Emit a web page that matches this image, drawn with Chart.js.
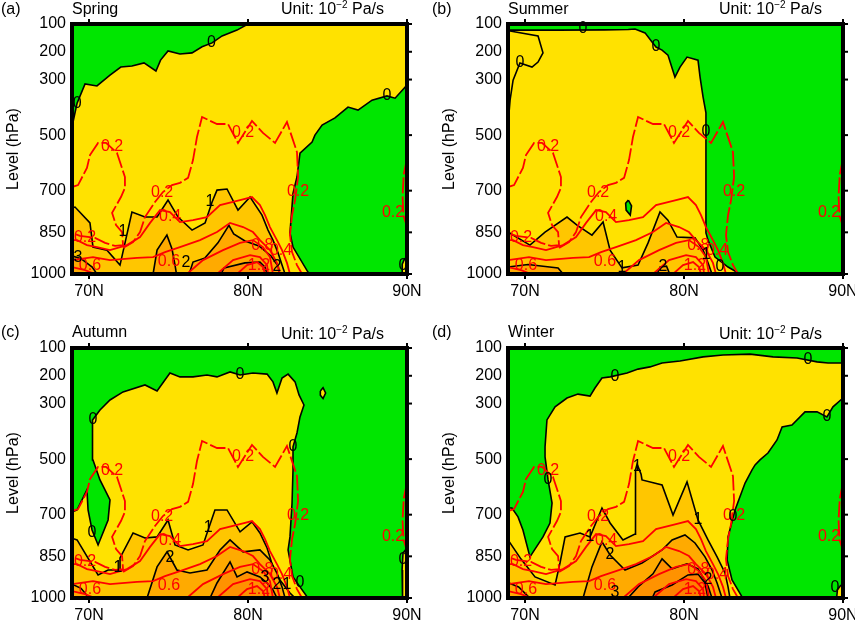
<!DOCTYPE html>
<html>
<head>
<meta charset="utf-8">
<script src="https://cdn.jsdelivr.net/npm/chart.js@4.4.0/dist/chart.umd.min.js"></script>
<style>
  html, body { margin: 0; padding: 0; background: #fff; }
  body { position: relative; width: 855px; height: 621px; overflow: hidden; font-family: 'Liberation Sans', Arial, sans-serif; }
  canvas { position: absolute; }
  .t { position: absolute; font-size: 16px; line-height: 16px; color: #000; white-space: nowrap; z-index: 2; }
  .t sup { font-size: 10px; line-height: 0; vertical-align: 6px; }
</style>
</head>
<body>
<canvas id="cA" width="430" height="322" style="left:0;top:0;width:430px;height:322px"></canvas>
<canvas id="cB" width="430" height="322" style="left:436px;top:0;width:430px;height:322px"></canvas>
<canvas id="cC" width="430" height="322" style="left:0;top:324px;width:430px;height:322px"></canvas>
<canvas id="cD" width="430" height="322" style="left:436px;top:324px;width:430px;height:322px"></canvas>

<div class="t" style="left:1px;top:1px">(a)</div>
<div class="t" style="left:72px;top:1px">Spring</div>
<div class="t" style="left:281px;top:1px">Unit: 10<sup>−2</sup> Pa/s</div>
<div class="t" style="left:432px;top:1px">(b)</div>
<div class="t" style="left:508px;top:1px">Summer</div>
<div class="t" style="left:719px;top:1px">Unit: 10<sup>−2</sup> Pa/s</div>
<div class="t" style="left:1px;top:324px">(c)</div>
<div class="t" style="left:72px;top:324px">Autumn</div>
<div class="t" style="left:281px;top:326px">Unit: 10<sup>−2</sup> Pa/s</div>
<div class="t" style="left:432px;top:324px">(d)</div>
<div class="t" style="left:508px;top:324px">Winter</div>
<div class="t" style="left:719px;top:326px">Unit: 10<sup>−2</sup> Pa/s</div>

<script>
// axes
const latTicks = [70, 80, 90];
const levelTicks = [100, 200, 300, 500, 700, 850, 1000];
const latMin = 68.93, latMax = 90;
const levelMin = 100, levelMax = 1000;

// shared red contours [lat, hPa]
const red02Tongue = [[68.93,687],[69.31,680],[69.87,618],[70.06,572],[70.57,528],[71.07,528],[71.76,564],[72.26,651],[72.26,690],[72.01,723],[71.45,780],[71.7,824],[72.08,849],[72.14,896],[71.64,899],[71.01,888],[70.38,870],[69.43,863],[68.93,852]];
const red02Main = [[72.14,906],[72.77,885],[73.21,849],[73.52,795],[74.15,741],[74.65,705],[75.22,680],[75.72,672],[76.23,654],[76.54,590],[76.79,507],[77.11,435],[78.05,460],[78.74,460],[79.37,528],[80.25,449],[80.94,492],[81.7,528],[82.45,453],[83.08,561],[83.15,651],[82.96,734],[82.77,788],[82.64,860],[82.77,921],[83.08,968],[83.4,1000]];
const red02Right = [[90,585],[89.8,640],[89.72,720],[89.78,790],[90,830]];
const red04 = [[68.93,878],[69.25,878],[69.87,896],[70.5,903],[71.32,914],[72.39,896],[73.21,867],[73.84,816],[74.47,770],[75.09,777],[75.72,813],[76.54,806],[77.42,795],[78.24,752],[79.5,734],[80.25,723],[80.75,752],[81.07,788],[81.38,831],[81.82,878],[82.14,914],[82.45,960],[82.64,1000]];
const red06 = [[68.93,950],[70.25,939],[71.32,950],[73.02,942],[74.03,939],[74.78,921],[75.72,903],[76.98,878],[78.05,849],[78.87,816],[79.69,831],[80.31,849],[80.75,878],[81.38,914],[81.82,960],[82.01,1000]];
const red08Left = [[68.93,975],[69.75,986],[70.38,1000]];
const red08 = [[76.16,1000],[77.17,950],[78.43,914],[79.5,888],[80.31,878],[80.94,903],[81.38,939],[81.57,1000]];
const red10 = [[78.05,1000],[79.06,950],[80.13,932],[80.75,939],[81.2,968],[81.26,1000]];
const red12 = [[79.31,1000],[79.94,968],[80.57,957],[80.94,975],[81.07,1000]];
const redLabels = [['0.2',71.45,543],['0.2',79.69,492],['0.2',74.6,708],['0.2',83.15,705],['0.2',89.12,780],['0.2',69.75,870],['0.4',75.1,795],['0.6',75.03,957],['0.6',70.06,968],['0.8',80.9,899],['0.4',82.08,914],['1.2',80.69,971]];

// Spring
const springYellow = [[68.93,1000],[68.93,470],[69.25,385],[69.75,316],[70.5,323],[71.32,284],[72.0,255],[72.7,251],[73.46,240],[74.21,269],[74.5,230],[74.97,197],[75.72,208],[76.48,204],[77.11,182],[77.74,168],[78.37,143],[79.31,122],[80.0,100],[90,100],[90,320],[89.25,367],[88.74,359],[87.8,374],[86.92,410],[86.29,399],[85.47,438],[84.66,464],[84.21,500],[84.03,525],[83.27,565],[83.08,651],[82.83,710],[82.64,852],[82.83,903],[83.77,993],[83.9,1000],[68.93,1000]];
const springYellowEdge = [[89.7,1000],[89.7,965],[89.85,945],[90,940],[90,1000],[89.7,1000]];
const springOr1 = [[68.93,1000],[68.93,762],[69.12,759],[70.06,816],[70.25,903],[71.13,914],[71.95,968],[72.7,777],[73.52,795],[74.28,795],[74.97,734],[75.6,795],[76.48,842],[77.3,816],[77.74,741],[78.05,698],[78.68,694],[79.37,770],[80.13,723],[80.88,788],[81.26,842],[81.57,878],[81.89,924],[82.14,968],[82.33,1000],[68.93,1000]];
const springOr2a = [[74.03,1000],[74.28,914],[74.9,860],[75.22,910],[75.41,968],[75.5,1000],[74.03,1000]];
const springOr2b = [[76.3,1000],[76.54,957],[77.3,942],[78.11,888],[78.8,825],[79.1,856],[79.81,881],[80.69,899],[81.45,935],[81.89,971],[82.0,1000],[76.3,1000]];
const springOr2c = [[68.93,1000],[68.93,935],[69.5,945],[70.2,975],[70.5,1000],[68.93,1000]];
const springOr3 = [[78.3,1000],[78.5,978],[79.81,960],[80.75,957],[81.07,975],[81.2,1000],[78.3,1000]];
const springLabels = [['0',69.25,385],['0',77.7,168],['0',88.74,359],['0',89.75,968],['1',77.6,741],['1',72.14,849],['2',76.1,960],['2',81.82,975],['3',69.3,940]];

// Summer
const summerYellow = [[68.93,1000],[68.93,122],[72.0,122],[75.0,121],[76.5,120],[76.92,118],[77.55,132],[77.99,165],[78.24,183],[78.62,194],[78.99,212],[79.43,291],[79.75,255],[80.19,219],[80.88,230],[81.01,291],[81.2,363],[81.38,420],[81.38,554],[81.38,852],[81.51,878],[81.95,939],[82.77,975],[83.52,1000],[68.93,1000]];
const summerLoop = [[68.93,125],[69.06,125],[70.82,143],[71.13,204],[70.82,237],[70.44,255],[69.68,240],[69.25,302],[69.06,374],[68.95,450]];
const summerOr1 = [[68.93,1000],[68.93,849],[70.31,896],[71.26,849],[72.64,795],[73.27,824],[74.21,860],[74.91,813],[75.35,914],[76.1,978],[77.11,968],[77.74,888],[78.49,777],[78.99,806],[79.56,867],[80.69,870],[81.2,914],[81.51,960],[81.76,1000],[68.93,1000]];
const summerOr2a = [[68.93,1000],[68.93,975],[70.19,966],[72.08,978],[72.4,1000],[68.93,1000]];
const summerOr2b = [[78.3,1000],[78.5,975],[78.9,972],[79.1,1000],[78.3,1000]];
const summerGreenSpot = [[76.5,734],[76.7,755],[76.62,788],[76.36,770],[76.33,745],[76.5,734]];
const summerLabels = [['0',73.65,118],['0',69.68,240],['0',78.24,183],['0',81.38,489],['0',82.26,975],['1',76.1,978],['2',78.68,975],['1',81.4,930]];

// Autumn
const autumnYellow = [[68.93,1000],[68.93,690],[69.25,683],[69.87,611],[69.94,683],[70.19,755],[70.57,809],[71.2,719],[71.32,647],[70.69,575],[70.25,503],[70.19,420],[70.25,359],[70.69,323],[71.32,287],[72.14,258],[73.52,233],[74.28,255],[75.09,190],[75.72,204],[76.54,204],[77.42,197],[78.05,204],[78.87,186],[79.5,197],[80.31,190],[81.2,194],[81.57,222],[81.82,262],[82.14,208],[82.52,194],[82.96,222],[83.21,269],[83.52,305],[83.27,348],[83.08,406],[82.83,456],[82.83,539],[82.77,658],[82.64,780],[82.52,827],[82.83,924],[83.27,960],[83.77,1000],[68.93,1000]];
const autumnYellowEdge = [[90,820],[89.75,838],[89.69,899],[89.72,1000],[90,1000],[90,820]];
const autumnYellowLoop = [[84.55,255],[84.72,243],[84.88,262],[84.72,282],[84.55,270],[84.55,255]];
const autumnOr1 = [[68.93,1000],[68.93,785],[69.25,791],[70.57,917],[71.2,899],[71.95,899],[71.95,856],[72.77,766],[73.52,784],[74.28,780],[74.97,719],[75.41,809],[76.23,827],[77.17,809],[77.92,683],[78.68,683],[79.5,762],[80.25,726],[80.75,766],[81.2,820],[81.57,888],[82.01,935],[82.64,982],[82.96,1000],[68.93,1000]];
const autumnOr2a = [[73.65,1000],[74.28,888],[74.91,834],[75.53,899],[76.35,910],[77.42,899],[78.24,827],[78.87,791],[79.69,834],[80.75,827],[81.38,863],[81.82,910],[82.14,960],[82.33,1000],[73.65,1000]];
const autumnOr2b = [[68.93,1000],[68.93,950],[69.5,965],[70.0,1000],[68.93,1000]];
const autumnOr3 = [[77.61,1000],[78.05,946],[78.87,870],[79.31,924],[79.94,906],[80.75,924],[81.2,946],[81.57,971],[81.82,1000],[77.61,1000]];
const autumnLabels = [['0',70.25,359],['0',79.5,197],['0',82.83,456],['0',70.19,766],['0',83.27,946],['0',89.75,863],['1',71.82,892],['1',77.5,748],['2',75.09,856],['3',81.07,928],['2',81.82,953],['1',82.45,953]];

// Winter
const winterYellow = [[68.93,1000],[68.93,676],[69.18,676],[69.56,708],[69.87,755],[70.31,852],[71.13,780],[71.57,730],[71.7,658],[71.45,575],[71.26,492],[71.26,456],[71.38,359],[71.89,312],[72.64,280],[73.33,266],[74.09,273],[74.4,244],[74.84,208],[75.35,204],[76.42,190],[77.11,176],[77.86,168],[78.62,154],[79.75,147],[81.2,132],[82.45,125],[84.15,122],[85.6,132],[87.11,136],[88.37,150],[89.06,154],[89.75,154],[90,154],[90,280],[89.37,312],[88.99,348],[88.37,330],[87.61,330],[86.79,377],[86.17,384],[85.85,431],[85.28,478],[84.78,503],[84.47,521],[84.28,539],[83.84,586],[83.21,683],[82.77,780],[82.71,863],[83.02,935],[83.65,996],[83.7,1000],[68.93,1000]];
const winterYellowEdge = [[89.6,1000],[89.65,970],[89.85,955],[90,950],[90,1000],[89.6,1000]];
const winterOr1 = [[68.93,1000],[68.93,791],[69.75,860],[70.63,924],[71.89,953],[72.2,874],[72.52,780],[73.46,766],[74.09,780],[74.84,676],[75.35,730],[76.16,791],[76.92,770],[76.98,644],[76.92,539],[77.05,518],[77.3,554],[77.36,575],[78.62,593],[79.31,701],[80.19,582],[80.88,719],[81.51,791],[82.08,852],[82.58,910],[82.77,960],[82.89,1000],[68.93,1000]];
const winterOr2a = [[73.65,1000],[74.21,888],[74.84,798],[75.35,845],[76.29,899],[77.36,874],[78.62,827],[79.25,791],[80.06,773],[80.69,802],[81.32,852],[81.76,899],[82.08,946],[82.39,1000],[73.65,1000]];
const winterOr2b = [[68.93,1000],[68.93,945],[69.6,960],[70.3,1000],[68.93,1000]];
const winterOr3 = [[76.48,1000],[77.11,960],[78.05,913],[78.62,859],[79.25,895],[80.19,877],[80.88,895],[81.51,957],[81.76,1000],[76.48,1000]];
const winterOr4 = [[78.0,1000],[78.18,978],[79.25,953],[80.25,917],[80.88,914],[81.32,946],[81.51,1000],[78.0,1000]];
const winterLabels = [['0',75.66,204],['0',87.8,140],['0',88.99,348],['0',71.45,575],['0',83.08,708],['1',77.05,528],['1',80.88,719],['1',74.09,780],['2',75.35,845],['3',75.66,982],['2',81.51,935],['0',89.5,964]];

// shading
const GREEN = '#00e600', YELLOW = '#ffe200', OR1 = '#ffc600', OR2 = '#ffaa00', OR3 = '#ff9200', OR4 = '#ff8000';
const FONT = 'Liberation Sans';

const panels = [
  { id: 'cA', fills: [[springYellow, YELLOW], [springYellowEdge, YELLOW], [springOr1, OR1], [springOr2a, OR2], [springOr2b, OR2], [springOr2c, OR2], [springOr3, OR3]], lines: [], labels: springLabels },
  { id: 'cB', fills: [[summerYellow, YELLOW], [summerOr1, OR1], [summerOr2a, OR2], [summerOr2b, OR2], [summerGreenSpot, GREEN]], lines: [summerLoop], labels: summerLabels },
  { id: 'cC', fills: [[autumnYellow, YELLOW], [autumnYellowEdge, YELLOW], [autumnYellowLoop, YELLOW], [autumnOr1, OR1], [autumnOr2a, OR2], [autumnOr2b, OR2], [autumnOr3, OR3]], lines: [], labels: autumnLabels },
  { id: 'cD', fills: [[winterYellow, YELLOW], [winterYellowEdge, YELLOW], [winterOr1, OR1], [winterOr2a, OR2], [winterOr2b, OR2], [winterOr3, OR3], [winterOr4, OR4]], lines: [], labels: winterLabels }
];

const redLines = [[red02Tongue, true], [red02Main, true], [red02Right, true], [red04, false], [red06, false], [red08Left, false], [red08, false], [red10, false], [red12, false]];

function toXY(pts) {
  return pts.map(p => ({ x: p[0], y: p[1] }));
}

// green background = negative values
const bgPlugin = {
  id: 'bg',
  beforeDatasetsDraw(chart) {
    const { ctx, chartArea: a } = chart;
    ctx.save();
    ctx.fillStyle = GREEN;
    ctx.fillRect(a.left, a.top, a.right - a.left, a.bottom - a.top);
    ctx.restore();
  }
};

function labelPlugin(blackLabels) {
  return {
    id: 'contourLabels',
    afterDatasetsDraw(chart) {
      const { ctx, scales } = chart;
      ctx.save();
      ctx.font = '16px ' + FONT;
      ctx.textAlign = 'center';
      ctx.textBaseline = 'middle';
      ctx.fillStyle = '#ff0000';
      redLabels.forEach(l => ctx.fillText(l[0], scales.x.getPixelForValue(l[1]), scales.y.getPixelForValue(l[2])));
      ctx.fillStyle = '#000';
      blackLabels.forEach(l => ctx.fillText(l[0], scales.x.getPixelForValue(l[1]), scales.y.getPixelForValue(l[2])));
      ctx.restore();
    }
  };
}

const framePlugin = {
  id: 'frame',
  afterDatasetsDraw(chart) {
    const { ctx, chartArea: a, scales } = chart;
    ctx.save();
    ctx.strokeStyle = '#000';
    ctx.lineWidth = 2;
    latTicks.forEach(t => {
      const x = scales.x.getPixelForValue(t);
      ctx.beginPath(); ctx.moveTo(x, a.top); ctx.lineTo(x, a.top - 5); ctx.stroke();
    });
    levelTicks.forEach(t => {
      const y = scales.y.getPixelForValue(t);
      ctx.beginPath(); ctx.moveTo(a.right, y); ctx.lineTo(a.right + 5, y); ctx.stroke();
    });
    ctx.lineWidth = 4;
    ctx.strokeRect(a.left, a.top, a.right - a.left, a.bottom - a.top);
    ctx.restore();
  }
};

panels.forEach(p => {
  const datasets = [];
  p.fills.forEach(f => datasets.push({
    data: toXY(f[0]), backgroundColor: f[1], borderColor: '#000', borderWidth: 1.6,
    fill: 'shape', pointRadius: 0, tension: 0
  }));
  p.lines.forEach(l => datasets.push({
    data: toXY(l), borderColor: '#000', borderWidth: 1.6, fill: false, pointRadius: 0, tension: 0
  }));
  redLines.forEach(r => datasets.push({
    data: toXY(r[0]), borderColor: '#ff0000', borderWidth: 1.8, borderDash: r[1] ? [16, 3] : [],
    fill: false, pointRadius: 0, tension: 0
  }));
  // first dataset = bottom layer
  datasets.forEach((d, i) => { d.order = datasets.length - i; });

  new Chart(document.getElementById(p.id).getContext('2d'), {
    type: 'line',
    data: { datasets: datasets },
    options: {
      responsive: false,
      animation: false,
      events: [],
      layout: { padding: { top: 24, right: 23, bottom: 0, left: 0 } },
      plugins: { legend: { display: false }, tooltip: { enabled: false } },
      scales: {
        x: {
          type: 'linear', position: 'bottom', min: latMin, max: latMax,
          afterBuildTicks: s => { s.ticks = latTicks.map(v => ({ value: v })); },
          afterFit: s => { s.height = 48; },
          grid: { drawOnChartArea: false, drawTicks: true, tickLength: 5, color: '#000', lineWidth: 2 },
          border: { display: false },
          ticks: { color: '#000', padding: 3, maxRotation: 0, font: { family: FONT, size: 16 }, callback: v => v + 'N' }
        },
        y: {
          type: 'linear', reverse: true, min: levelMin, max: levelMax,
          afterBuildTicks: s => { s.ticks = levelTicks.map(v => ({ value: v })); },
          afterFit: s => { s.width = 72; },
          grid: { display: false, drawTicks: false },
          border: { display: false },
          ticks: { color: '#000', padding: 6, font: { family: FONT, size: 16 }, callback: v => String(v) },
          title: { display: true, text: 'Level (hPa)', color: '#000', font: { family: FONT, size: 16 }, padding: { top: 4, bottom: 0 } }
        }
      }
    },
    plugins: [bgPlugin, labelPlugin(p.labels), framePlugin]
  });
});
</script>
</body>
</html>
